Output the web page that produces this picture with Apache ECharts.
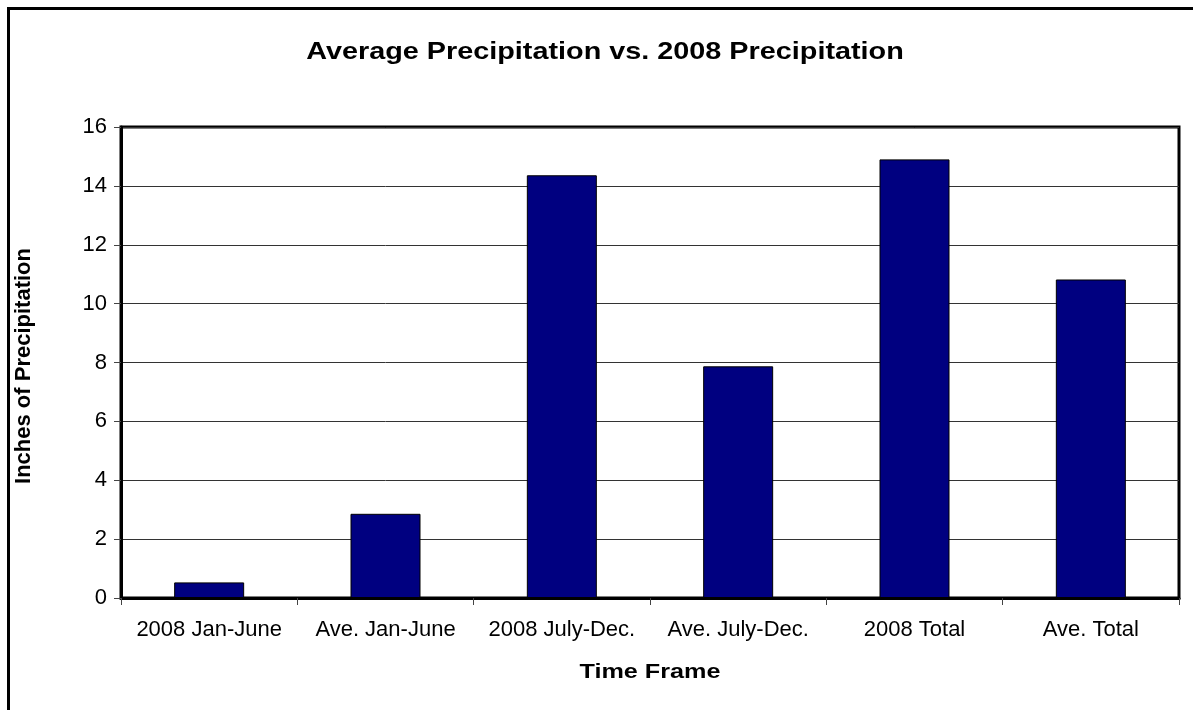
<!DOCTYPE html>
<html>
<head>
<meta charset="utf-8">
<style>
  html, body { margin: 0; padding: 0; background: #fff; }
  #chart { width: 1193px; height: 710px; }
</style>
<script src="https://cdn.jsdelivr.net/npm/echarts@6/dist/echarts.min.js"></script>
</head>
<body>
<div id="chart"></div>
<script>
// Time frames on the category axis
const categories = [
  '2008 Jan-June',
  'Ave. Jan-June',
  '2008 July-Dec.',
  'Ave. July-Dec.',
  '2008 Total',
  'Ave. Total'
];
// Inches of precipitation for each time frame
const precipitation = [0.53, 2.86, 14.36, 7.87, 14.9, 10.82];
// Value axis range
const yTicks = { min: 0, max: 16, interval: 2 };

const FONT = "'Liberation Sans', Arial, sans-serif";

const chart = echarts.init(document.getElementById('chart'), null, { renderer: 'canvas' });

chart.setOption({
  backgroundColor: '#fff',
  animation: false,
  grid: {
    left: 121, right: 14, top: 127, bottom: 112,
    show: true,
    borderColor: '#000',
    borderWidth: 3,
    backgroundColor: '#fff'
  },
  xAxis: {
    type: 'category',
    data: categories,
    boundaryGap: true,
    axisLine: { show: true, lineStyle: { color: '#000', width: 3 } },
    axisTick: { show: true, alignWithLabel: false, length: 7, lineStyle: { color: '#444', width: 1 } },
    axisLabel: { fontFamily: FONT, fontSize: 22, color: '#000', margin: 21, interval: 0 },
    splitLine: { show: false }
  },
  yAxis: {
    type: 'value',
    min: yTicks.min,
    max: yTicks.max,
    interval: yTicks.interval,
    axisLine: { show: true, lineStyle: { color: '#000', width: 3 } },
    axisTick: { show: true, inside: false, length: 7, lineStyle: { color: '#444', width: 1 } },
    axisLabel: { fontFamily: FONT, fontSize: 22, color: '#000', margin: 14 },
    splitLine: { show: true, lineStyle: { color: '#333', width: 1 } }
  },
  graphic: [
    {
      // outer chart frame
      type: 'rect',
      silent: true,
      z: 100,
      shape: { x: 8.5, y: 8.5, width: 1200, height: 720 },
      style: { fill: 'none', stroke: '#000', lineWidth: 3 }
    },
    {
      // chart title, set slightly wide
      type: 'text',
      x: 605,
      y: 52,
      scaleX: 1.2,
      style: {
        text: 'Average Precipitation vs. 2008 Precipitation',
        font: 'bold 24px ' + FONT,
        fill: '#000',
        textAlign: 'center',
        textVerticalAlign: 'middle'
      }
    },
    {
      // value axis name, reading bottom to top
      type: 'text',
      x: 24,
      y: 366,
      rotation: Math.PI / 2,
      style: {
        text: 'Inches of Precipitation',
        font: 'bold 22px ' + FONT,
        fill: '#000',
        textAlign: 'center',
        textVerticalAlign: 'middle'
      }
    },
    {
      // category axis name
      type: 'text',
      x: 650,
      y: 672,
      scaleX: 1.2,
      style: {
        text: 'Time Frame',
        font: 'bold 21px ' + FONT,
        fill: '#000',
        textAlign: 'center',
        textVerticalAlign: 'middle'
      }
    }
  ],
  series: [
    {
      type: 'bar',
      data: precipitation,
      barWidth: 70,
      itemStyle: { color: '#000080', borderColor: '#000', borderWidth: 1 }
    }
  ]
});
</script>
</body>
</html>
